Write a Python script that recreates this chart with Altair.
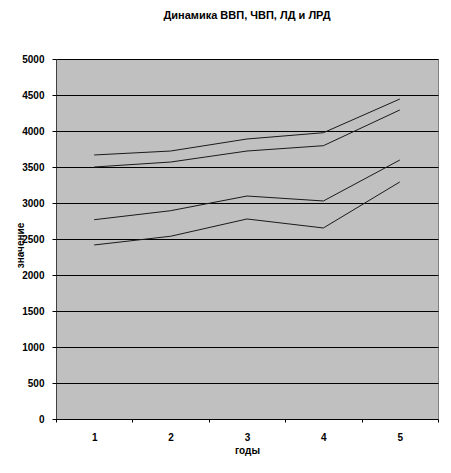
import altair as alt
import pandas as pd

years = [1, 2, 3, 4, 5]
series_names = ["ВВП", "ЧВП", "ЛД", "ЛРД"]
vvp = [3667, 3722, 3889, 3976, 4444]
chvp = [3500, 3569, 3722, 3796, 4292]
ld = [2768, 2893, 3097, 3028, 3597]
lrd = [2417, 2538, 2778, 2653, 3292]

rows = []
for name, vals in zip(series_names, [vvp, chvp, ld, lrd]):
    for y, v in zip(years, vals):
        rows.append({"год": y, "значение": v, "ряд": name})
df = pd.DataFrame(rows)

FONT = "Liberation Sans"

chart = alt.Chart(df).mark_line(strokeWidth=1, color="#1a1a1a").encode(
    x=alt.X(
        "год:O",
        scale=alt.Scale(type="band", paddingInner=0, paddingOuter=0),
        axis=alt.Axis(
            title="годы",
            labelAngle=0,
            tickBand="extent",
            tickSize=3,
            tickColor="black",
            labelFont=FONT,
            labelFontSize=10,
            labelFontWeight="bold",
            labelColor="black",
            labelPadding=10,
            titleFont=FONT,
            titleFontSize=10,
            titleFontWeight="bold",
            titleColor="black",
            titlePadding=3,
            domainColor="black",
            domainDash=[1, 1],
            grid=False,
        ),
    ),
    y=alt.Y(
        "значение:Q",
        scale=alt.Scale(domain=[0, 5000], nice=False),
        axis=alt.Axis(
            title="значение",
            values=list(range(0, 5001, 500)),
            format="d",
            tickSize=4,
            tickColor="black",
            labelFont=FONT,
            labelFontSize=10,
            labelFontWeight="bold",
            labelColor="black",
            labelPadding=8,
            titleFont=FONT,
            titleFontSize=10,
            titleFontWeight="bold",
            titleColor="black",
            titleX=-31,
            titleY=186,
            titleAlign="center",
            titleBaseline="bottom",
            domainColor="black",
            domainDash=[1, 1],
            grid=True,
            gridColor="black",
            gridWidth=1,
            gridOpacity=1,
        ),
    ),
    detail="ряд:N",
).properties(
    width=382,
    height=360,
    title=alt.TitleParams(
        text="Динамика ВВП, ЧВП, ЛД и ЛРД",
        font=FONT,
        fontSize=11,
        fontWeight="bold",
        color="black",
        anchor="middle",
        offset=33,
    ),
    autosize=alt.AutoSizeParams(type="none"),
    padding={"left": 48, "top": 51, "right": 5, "bottom": 45},
    background="white",
).configure_view(
    fill="#C0C0C0",
    stroke="#808080",
    strokeWidth=1,
)

chart.save("out.html", embed_options={"renderer": "svg", "actions": False})
